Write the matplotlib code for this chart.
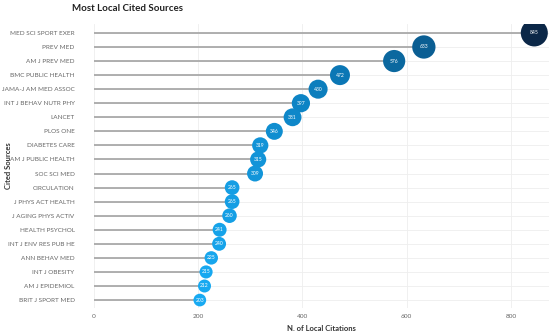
import matplotlib
matplotlib.use("Agg")
import matplotlib.pyplot as plt
import numpy as np
from matplotlib.colors import LinearSegmentedColormap, Normalize

sources = ["MED SCI SPORT EXER", "PREV MED", "AM J PREV MED", "BMC PUBLIC HEALTH",
           "JAMA-J AM MED ASSOC", "INT J BEHAV NUTR PHY", "LANCET", "PLOS ONE",
           "DIABETES CARE", "AM J PUBLIC HEALTH", "SOC SCI MED", "CIRCULATION",
           "J PHYS ACT HEALTH", "J AGING PHYS ACTIV", "HEALTH PSYCHOL",
           "INT J ENV RES PUB HE", "ANN BEHAV MED", "INT J OBESITY",
           "AM J EPIDEMIOL", "BRIT J SPORT MED"]
citations = [845, 633, 576, 472, 430, 397, 381, 346, 319, 315, 309, 265, 265,
             260, 241, 240, 225, 215, 212, 203]
xticks = [0, 200, 400, 600, 800]

plt.rcParams['font.family'] = ['Lato', 'DejaVu Sans']

fig = plt.figure(figsize=(5.5, 3.31), dpi=100)
ax = fig.add_axes([0.171, 0.068, 0.827, 0.858])

n = len(sources)
ypos = np.arange(n)[::-1]
vals = np.array(citations)

cmap = LinearSegmentedColormap.from_list("b", ["#18aaf2", "#0c80c0", "#0a5f94", "#0b2747"])
norm = Normalize(vmin=min(citations), vmax=max(citations))

ax.hlines(ypos, 0, vals, color="#a9a9a9", lw=1.3, zorder=2)
sizes = -10 + 0.46 * vals
ax.scatter(vals, ypos, s=sizes, c=cmap(norm(vals)), zorder=3, edgecolors="none")
for v, y in zip(vals, ypos):
    ax.text(v, y, str(v), color="white", fontsize=3.6, ha="center", va="center", zorder=4)

ax.set_xlim(0, 873)
ax.set_ylim(-0.6, n - 0.4)
ax.set_xticks(xticks)
ax.set_yticks(ypos)
ax.set_yticklabels(sources)
ax.tick_params(axis="both", length=0, labelsize=4.6, colors="#666666", pad=4)
ax.tick_params(axis="y", pad=14)
for s in ax.spines.values():
    s.set_visible(False)
ax.grid(True, color="#eeeeee", lw=0.6, zorder=0)
ax.set_axisbelow(True)

ax.set_xlabel("N. of Local Citations", fontsize=5.5, color="#333333", fontweight="bold", labelpad=4)
fig.text(0.016, 0.5, "Cited Sources", fontsize=5.5, color="#333333", fontweight="bold",
         rotation=90, ha="center", va="center")
fig.text(0.131, 0.975, "Most Local Cited Sources", fontsize=7, color="#222222",
         fontweight="bold", ha="left", va="center")

fig.savefig("out.png", dpi=100)
